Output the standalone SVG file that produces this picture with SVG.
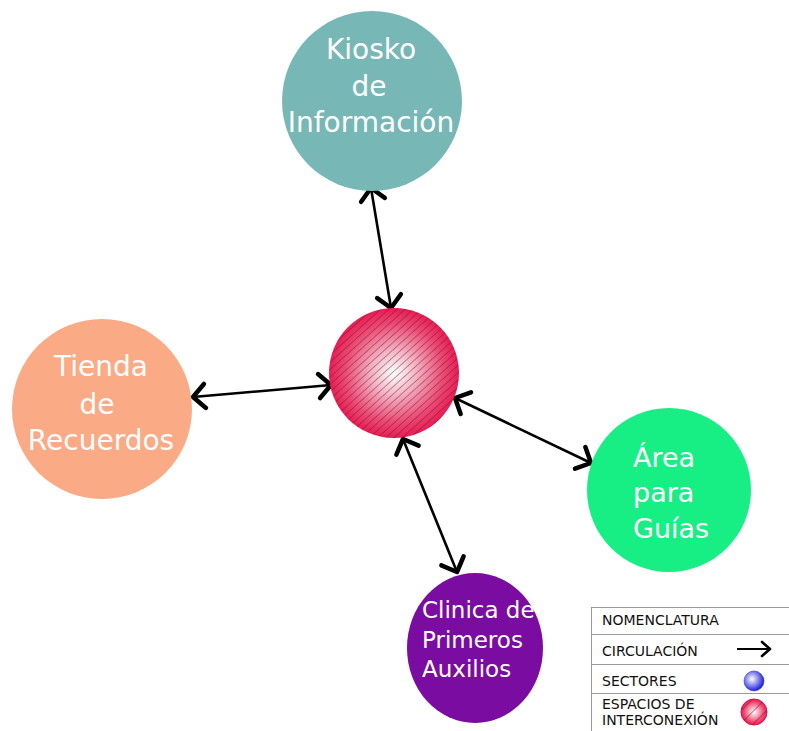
<svg xmlns="http://www.w3.org/2000/svg" width="789" height="731" viewBox="0 0 789 731">
<style>
  .lbl { font-family: "DejaVu Sans", "Open Sans", sans-serif; fill: #ffffff; }
  .big { font-size: 28px; }
  .b27 { font-size: 27px; }
  .mid { font-size: 23px; }
  .leg { font-family: "DejaVu Sans", sans-serif; font-size: 14px; fill: #111111; }
  .conn { stroke: #000; stroke-width: 2.6; fill: none; marker-start: url(#chev); marker-end: url(#chev); }
  .legline { stroke: #9a9a9a; stroke-width: 1; fill: none; }
</style>
<defs>
  <marker id="chev" markerUnits="userSpaceOnUse" viewBox="-20 -20 26 40" markerWidth="26" markerHeight="40" refX="0" refY="0" orient="auto-start-reverse">
    <path d="M-12,-12 L0,0 L-12,12" fill="none" stroke="#000" stroke-width="4.5" stroke-linecap="round" stroke-linejoin="round"/>
  </marker>
  <radialGradient id="redgrad" cx="0.5" cy="0.5" r="0.5">
    <stop offset="0" stop-color="#ffffff"/>
    <stop offset="0.35" stop-color="#f8b0c2"/>
    <stop offset="0.75" stop-color="#f04a74"/>
    <stop offset="1" stop-color="#ec1a52"/>
  </radialGradient>
  <radialGradient id="bluegrad" cx="0.4" cy="0.4" r="0.6">
    <stop offset="0" stop-color="#ffffff"/>
    <stop offset="1" stop-color="#1f1fe0"/>
  </radialGradient>
  <pattern id="hatch" patternUnits="userSpaceOnUse" width="5.5" height="5.5" patternTransform="rotate(48)">
    <line x1="0" y1="0" x2="0" y2="5.5" stroke="#3a2a30" stroke-width="1" stroke-opacity="0.85"/>
  </pattern>
  <pattern id="hatch2" patternUnits="userSpaceOnUse" width="9" height="9" patternTransform="rotate(45)">
    <line x1="0" y1="0" x2="0" y2="9" stroke="#7a1020" stroke-width="1"/>
  </pattern>
</defs>
<rect width="789" height="731" fill="#ffffff"/>

<g id="connectors">
  <line class="conn" x1="371" y1="188" x2="391" y2="308"/>
  <line class="conn" x1="193" y1="397" x2="331" y2="385"/>
  <line class="conn" x1="455" y1="398" x2="591" y2="463"/>
  <line class="conn" x1="403" y1="439" x2="457" y2="572"/>
</g>

<g id="kiosko">
  <circle cx="372" cy="101" r="90" fill="#77b8b7"/>
  <text class="lbl big" text-anchor="middle" x="371" y="59">Kiosko</text>
  <text class="lbl big" text-anchor="middle" x="369" y="96">de</text>
  <text class="lbl big" text-anchor="middle" x="371" y="132">Información</text>
</g>

<g id="center">
  <circle cx="394" cy="373" r="65" fill="url(#redgrad)"/>
  <circle cx="394" cy="373" r="65" fill="url(#hatch)"/>
</g>

<g id="tienda">
  <circle cx="102" cy="409" r="90" fill="#fbaa86"/>
  <text class="lbl big" text-anchor="middle" x="101" y="376">Tienda</text>
  <text class="lbl big" text-anchor="middle" x="97" y="414">de</text>
  <text class="lbl big" text-anchor="middle" x="101" y="450">Recuerdos</text>
</g>

<g id="area">
  <circle cx="669" cy="490" r="82" fill="#17ef85"/>
  <text class="lbl b27" x="633" y="467">Área</text>
  <text class="lbl b27" x="633" y="502">para</text>
  <text class="lbl b27" x="633" y="538">Guías</text>
</g>

<g id="clinica">
  <ellipse cx="475" cy="648" rx="68" ry="75" fill="#7b0ca2"/>
  <text class="lbl mid" x="422" y="618">Clinica de</text>
  <text class="lbl mid" x="422" y="648">Primeros</text>
  <text class="lbl mid" x="422" y="677">Auxilios</text>
</g>

<g id="legend">
  <rect x="591.5" y="607.5" width="200" height="126" fill="#ffffff" class="legline"/>
  <line class="legline" x1="591" y1="634.5" x2="789" y2="634.5"/>
  <line class="legline" x1="591" y1="664.5" x2="789" y2="664.5"/>
  <line class="legline" x1="591" y1="693.5" x2="789" y2="693.5"/>
  <text class="leg" x="602" y="625">NOMENCLATURA</text>
  <text class="leg" x="602" y="656">CIRCULACIÓN</text>
  <text class="leg" x="602" y="686">SECTORES</text>
  <text class="leg" x="602" y="709">ESPACIOS DE</text>
  <text class="leg" x="602" y="725">INTERCONEXIÓN</text>
  <line x1="737" y1="649" x2="769" y2="649" stroke="#000" stroke-width="2"/>
  <path d="M762,642 L770,649 L762,656" fill="none" stroke="#000" stroke-width="2.6" stroke-linecap="round" stroke-linejoin="round"/>
  <circle cx="754" cy="681" r="10" fill="url(#bluegrad)" stroke="#3030c0" stroke-width="0.6"/>
  <circle cx="754" cy="712" r="13" fill="url(#redgrad)" stroke="#d81646" stroke-width="1"/>
  <circle cx="754" cy="712" r="13" fill="url(#hatch2)"/>
</g>
</svg>
